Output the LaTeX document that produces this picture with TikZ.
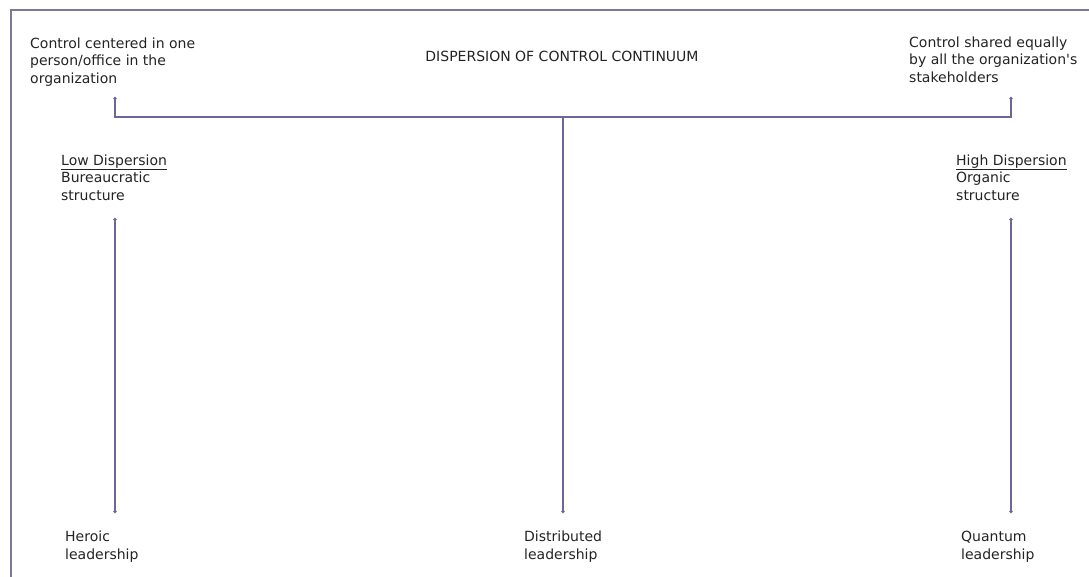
\documentclass[tikz,border=0pt]{standalone}
\usepackage{fontspec}
\setmainfont{DejaVu Sans}
\usepackage{xcolor}
\usetikzlibrary{positioning, arrows.meta}
\definecolor{linkcol}{RGB}{112,102,150}
\definecolor{framecol}{RGB}{128,118,150}
\definecolor{textcol}{RGB}{35,35,35}

\begin{document}
\begin{tikzpicture}[
    x=1pt, y=-1pt,
    label/.style={inner sep=0pt, align=left, anchor=north west, text=textcol, font=\fontsize{14}{17.5}\selectfont},
    link/.style={draw=linkcol, line width=1.3pt},
    ends/.style={{Circle[length=3pt]}-{Circle[length=3pt]}}
]
\useasboundingbox (0,0) rectangle (1089,577);
\draw[framecol, line width=2pt] (1089,10) -- (11,10) -- (11,577);

\node[label] (centered) at (30,37.5) {Control centered in one\\person/office in the\\organization};
\node[label] (shared) at (909,36.5) {Control shared equally\\by all the organization\textquotesingle s\\stakeholders};
\node[label, anchor=base] (title) at (562,62) {DISPERSION OF CONTROL CONTINUUM};

\node[label] (lowdisp) at (61,154.5) {\underline{Low Dispersion}\\Bureaucratic\\structure};
\node[label] (highdisp) at (956,154.5) {\underline{High Dispersion}\\Organic\\structure};

\node[label] (heroic) at (65,531) {Heroic\\leadership};
\node[label] (distrib) at (524,531) {Distributed\\leadership};
\node[label] (quantum) at (961,531) {Quantum\\leadership};

% continuum bracket
\coordinate (lefttop) at (115,97);
\coordinate (leftend) at (115,117);
\coordinate (righttop) at (1011,97);
\coordinate (rightend) at (1011,117);
\coordinate (midtop) at (563,117);
\coordinate (midbot) at (563,513);
\coordinate (lowtop) at (115,218);
\coordinate (lowbot) at (115,513);
\coordinate (hightop) at (1011,218);
\coordinate (highbot) at (1011,513);

\draw[link, ends] (lefttop) -- (leftend) -- (rightend) -- (righttop);
\draw[link, -{Circle[length=3pt]}] (midtop) -- (midbot);
\draw[link, ends] (lowtop) -- (lowbot);
\draw[link, ends] (hightop) -- (highbot);

\end{tikzpicture}
\end{document}
